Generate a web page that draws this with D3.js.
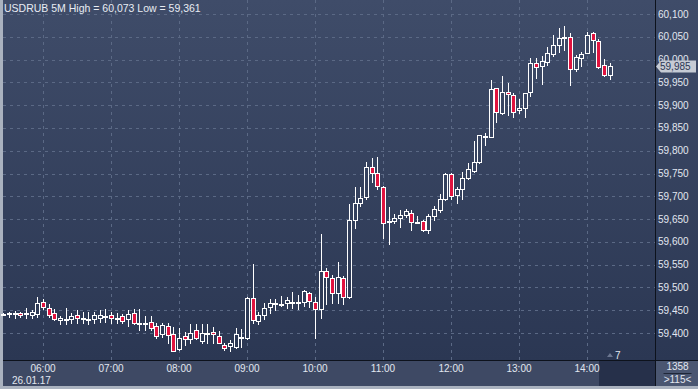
<!DOCTYPE html>
<html>
<head>
<meta charset="utf-8">
<script src="https://cdn.jsdelivr.net/npm/d3@7"></script>
<style>
  html, body { margin: 0; padding: 0; background: #a9b1be; }
  svg { display: block; }
  text { font-family: "Liberation Sans", Arial, sans-serif; }
</style>
</head>
<body>
<svg id="chart" width="698" height="389"></svg>
<script>
// 5 minute bars, 26.01.17, first bar 05:25
var symbol = "USDRUB 5M";
var firstBar = "2017-01-26T05:25:00";
var barMinutes = 5;

var openValues = [
  59442, 59443, 59442, 59443, 59443, 59440, 59441, 59467, 59454, 59443,
  59429, 59431, 59430, 59439, 59433, 59431, 59431, 59434, 59437, 59439,
  59430, 59437, 59430, 59443, 59423, 59423, 59424, 59415, 59397, 59415,
  59397, 59364, 59393, 59386, 59406, 59382, 59401, 59403, 59393, 59374,
  59371, 59370, 59392, 59390, 59476, 59426, 59439, 59456, 59465, 59463,
  59465, 59467, 59467, 59469, 59487, 59469, 59452, 59537, 59520, 59488,
  59520, 59480, 59648, 59686, 59699, 59764, 59752, 59721, 59645, 59645,
  59653, 59659, 59664, 59644, 59645, 59627, 59657, 59671, 59695, 59748,
  59703, 59716, 59741, 59756, 59776, 59833, 59831, 59937, 59882, 59928,
  59922, 59889, 59893, 59928, 59992, 59985, 59994, 60012, 60032, 60050,
  60050, 59979, 60003, 60014, 60058, 60041, 59987, 59966
];
var highValues = [
  59443, 59447, 59448, 59447, 59454, 59450, 59478, 59475, 59463, 59453,
  59437, 59454, 59443, 59450, 59447, 59447, 59445, 59450, 59452, 59445,
  59443, 59441, 59450, 59452, 59452, 59437, 59437, 59423, 59423, 59423,
  59414, 59410, 59403, 59420, 59419, 59420, 59420, 59414, 59404, 59377,
  59385, 59410, 59408, 59478, 59551, 59447, 59466, 59474, 59474, 59481,
  59480, 59491, 59483, 59494, 59491, 59480, 59617, 59542, 59527, 59556,
  59524, 59684, 59721, 59721, 59775, 59783, 59786, 59722, 59677, 59662,
  59670, 59673, 59670, 59657, 59649, 59661, 59678, 59706, 59752, 59752,
  59721, 59754, 59774, 59821, 59835, 59838, 59955, 59937, 59964, 59949,
  59926, 59913, 59926, 60003, 60003, 60007, 60028, 60053, 60069, 60073,
  60058, 60010, 60016, 60061, 60061, 60045, 60001, 59992
];
var lowValues = [
  59441, 59436, 59432, 59436, 59432, 59432, 59436, 59453, 59436, 59429,
  59419, 59419, 59423, 59421, 59421, 59419, 59423, 59425, 59425, 59421,
  59423, 59421, 59415, 59419, 59406, 59406, 59406, 59390, 59392, 59377,
  59360, 59363, 59374, 59377, 59386, 59379, 59377, 59377, 59377, 59363,
  59361, 59366, 59370, 59386, 59423, 59420, 59430, 59443, 59450, 59459,
  59454, 59454, 59452, 59459, 59458, 59390, 59432, 59464, 59466, 59466,
  59464, 59476, 59631, 59678, 59693, 59732, 59717, 59609, 59596, 59642,
  59633, 59655, 59626, 59642, 59624, 59620, 59648, 59666, 59692, 59693,
  59686, 59695, 59737, 59754, 59774, 59812, 59829, 59864, 59881, 59878,
  59873, 59883, 59873, 59921, 59959, 59947, 59988, 60007, 60016, 60021,
  59944, 59974, 59985, 60014, 60017, 59981, 59963, 59957
];
var closeValues = [
  59442, 59443, 59444, 59440, 59443, 59445, 59465, 59456, 59439, 59430,
  59433, 59431, 59437, 59434, 59433, 59431, 59439, 59439, 59437, 59433,
  59433, 59427, 59441, 59423, 59423, 59423, 59410, 59394, 59417, 59396,
  59361, 59388, 59386, 59401, 59390, 59401, 59401, 59397, 59379, 59366,
  59379, 59397, 59392, 59476, 59428, 59439, 59454, 59465, 59465, 59463,
  59472, 59467, 59467, 59493, 59470, 59452, 59537, 59522, 59487, 59522,
  59478, 59648, 59686, 59697, 59764, 59752, 59723, 59642, 59645, 59653,
  59660, 59667, 59644, 59644, 59627, 59657, 59673, 59695, 59748, 59700,
  59717, 59741, 59759, 59776, 59834, 59829, 59935, 59884, 59929, 59924,
  59886, 59893, 59926, 59992, 59983, 59996, 60014, 60033, 60048, 60050,
  59979, 60005, 60012, 60055, 60043, 59984, 59966, 59985
];

var priceTicks = [59400, 59450, 59500, 59550, 59600, 59650, 59700, 59750,
                  59800, 59850, 59900, 59950, 60000, 60050, 60100];
var hourTicks = ["06:00", "07:00", "08:00", "09:00", "10:00", "11:00",
                 "12:00", "13:00", "14:00"];
var dateLabel = "26.01.17";
var lastPrice = 59985;
var highLabel = "60,073";
var lowLabel = "59,361";
var barsCounter = "7";
var footerTop = "1358";
var footerBottom = ">115<";

function fmtPrice(v) {
  return d3.format(",")(v);
}

function drawChart() {
  var svg = d3.select("#chart");
  var width = +svg.attr("width");
  var height = +svg.attr("height");

  var plot = { left: 3, right: 655, top: 0, bottom: 360 };
  var axisBottom = 386;

  var parse = d3.timeParse("%Y-%m-%dT%H:%M:%S");
  var start = parse(firstBar);
  var bars = openValues.map(function(o, i) {
    return {
      time: d3.timeMinute.offset(start, i * barMinutes),
      open: o,
      high: highValues[i],
      low: lowValues[i],
      close: closeValues[i]
    };
  });

  var x = d3.scaleTime()
    .domain([parse("2017-01-26T06:00:00"), parse("2017-01-26T14:00:00")])
    .range([43, 587]);

  var y = d3.scaleLinear()
    .domain([59400, 60100])
    .range([333, 14]);

  // background gradient in page units, so hollow bodies reuse it
  var defs = svg.append("defs");
  var grad = defs.append("linearGradient")
    .attr("id", "bg")
    .attr("gradientUnits", "userSpaceOnUse")
    .attr("x1", 0).attr("y1", 0).attr("x2", 0).attr("y2", plot.bottom);
  grad.append("stop").attr("offset", "0%").attr("stop-color", "#3f4c69");
  grad.append("stop").attr("offset", "100%").attr("stop-color", "#2b3753");

  // frame and panels
  svg.append("rect")
    .attr("width", width).attr("height", height)
    .attr("fill", "#aab2bf");

  svg.append("rect")
    .attr("x", plot.left).attr("y", 0)
    .attr("width", width - plot.left).attr("height", plot.bottom)
    .attr("fill", "url(#bg)");

  svg.append("rect")
    .attr("x", plot.left).attr("y", plot.bottom)
    .attr("width", width - plot.left).attr("height", axisBottom - plot.bottom)
    .attr("fill", "#3e4964");

  svg.append("rect")
    .attr("x", 599).attr("y", plot.bottom + 1)
    .attr("width", plot.right - 599).attr("height", axisBottom - plot.bottom - 1)
    .attr("fill", "#26304a");

  svg.append("rect")
    .attr("x", plot.right + 1).attr("y", plot.bottom + 1)
    .attr("width", width - plot.right - 1).attr("height", axisBottom - plot.bottom - 1)
    .attr("fill", "#4a5671");

  // grid
  var grid = svg.append("g").attr("class", "grid")
    .attr("stroke", "#5b6985")
    .attr("stroke-width", 1)
    .attr("stroke-dasharray", "3,4");

  grid.selectAll(".hgrid")
    .data(priceTicks)
    .enter().append("line")
    .attr("x1", plot.left).attr("x2", plot.right)
    .attr("y1", function(d) { return Math.round(y(d)) + 0.5; })
    .attr("y2", function(d) { return Math.round(y(d)) + 0.5; });

  grid.selectAll(".vgrid")
    .data(hourTicks)
    .enter().append("line")
    .attr("y1", plot.top).attr("y2", plot.bottom)
    .attr("x1", function(d) { return Math.round(x(parse("2017-01-26T" + d + ":00"))) + 0.5; })
    .attr("x2", function(d) { return Math.round(x(parse("2017-01-26T" + d + ":00"))) + 0.5; });

  // separators
  svg.append("line")
    .attr("x1", plot.left).attr("x2", width)
    .attr("y1", plot.bottom + 0.5).attr("y2", plot.bottom + 0.5)
    .attr("stroke", "#0d121c");
  svg.append("line")
    .attr("x1", plot.right + 0.5).attr("x2", plot.right + 0.5)
    .attr("y1", 0).attr("y2", axisBottom)
    .attr("stroke", "#0d121c");

  // candles
  var candles = svg.append("g").attr("class", "candles");
  var candle = candles.selectAll(".candle")
    .data(bars)
    .enter().append("g")
    .attr("class", "candle");

  candle.append("line")
    .attr("x1", function(d) { return Math.round(x(d.time)) + 0.5; })
    .attr("x2", function(d) { return Math.round(x(d.time)) + 0.5; })
    .attr("y1", function(d) { return Math.round(y(d.high)); })
    .attr("y2", function(d) { return Math.round(y(d.low)) + 1; })
    .attr("stroke", "#ffffff")
    .attr("stroke-width", 1);

  candle.append("rect")
    .attr("x", function(d) { return Math.round(x(d.time)) - 1.5; })
    .attr("width", 4)
    .attr("y", function(d) { return Math.round(y(Math.max(d.open, d.close))) + 0.5; })
    .attr("height", function(d) {
      return Math.max(1, Math.round(y(Math.min(d.open, d.close))) - Math.round(y(Math.max(d.open, d.close))));
    })
    .attr("fill", function(d) { return d.close < d.open ? "#e0133f" : "url(#bg)"; })
    .attr("stroke", "#ffffff")
    .attr("stroke-width", 1);

  // right price axis
  var yAxis = svg.append("g").attr("class", "y-axis");
  yAxis.selectAll("text")
    .data(priceTicks)
    .enter().append("text")
    .attr("x", plot.right + 3)
    .attr("y", function(d) { return y(d); })
    .attr("dy", "0.35em")
    .attr("fill", "#e2e7f0")
    .style("font-size", "10px")
    .text(function(d) { return fmtPrice(d); });

  // last price tag
  var ty = y(lastPrice);
  var tag = svg.append("g").attr("class", "price-tag");
  tag.append("path")
    .attr("d", "M" + (plot.right + 1) + "," + ty +
               "L" + (plot.right + 6) + "," + (ty - 6) +
               "L" + (width - 2) + "," + (ty - 6) +
               "L" + (width - 2) + "," + (ty + 6) +
               "L" + (plot.right + 6) + "," + (ty + 6) + "Z")
    .attr("fill", "#c6cbd4");
  tag.append("text")
    .attr("x", plot.right + 5)
    .attr("y", ty)
    .attr("dy", "0.35em")
    .attr("fill", "#2b3653")
    .style("font-size", "10px")
    .text(fmtPrice(lastPrice));

  // bottom time axis
  var xAxis = svg.append("g").attr("class", "x-axis");
  xAxis.selectAll("text")
    .data(hourTicks)
    .enter().append("text")
    .attr("x", function(d) { return x(parse("2017-01-26T" + d + ":00")); })
    .attr("y", 372)
    .attr("text-anchor", "middle")
    .attr("fill", "#e2e7f0")
    .style("font-size", "10px")
    .text(function(d) { return d; });

  svg.append("text")
    .attr("x", 12).attr("y", 384)
    .attr("fill", "#e2e7f0")
    .style("font-size", "10px")
    .text(dateLabel);

  // counter marker
  svg.append("path")
    .attr("d", "M607,357L610,353L613,357Z")
    .attr("fill", "#6b7690");
  svg.append("text")
    .attr("x", 615).attr("y", 359)
    .attr("fill", "#e2e7f0")
    .style("font-size", "10px")
    .text(barsCounter);

  // footer corner
  var cx = (plot.right + width) / 2 + 1;
  svg.append("text")
    .attr("x", cx).attr("y", 370)
    .attr("text-anchor", "middle")
    .attr("fill", "#e2e7f0")
    .style("font-size", "10px")
    .text(footerTop);
  svg.append("line")
    .attr("x1", cx - 14).attr("x2", cx + 14)
    .attr("y1", 373.5).attr("y2", 373.5)
    .attr("stroke", "#1f2738");
  svg.append("text")
    .attr("x", cx).attr("y", 383)
    .attr("text-anchor", "middle")
    .attr("fill", "#e2e7f0")
    .style("font-size", "10px")
    .text(footerBottom);

  // title
  svg.append("text")
    .attr("x", 4).attr("y", 12)
    .attr("fill", "#e8ecf3")
    .style("font-size", "10.5px")
    .text(symbol + " High = " + highLabel + " Low = " + lowLabel);
}

drawChart();
</script>
</body>
</html>
